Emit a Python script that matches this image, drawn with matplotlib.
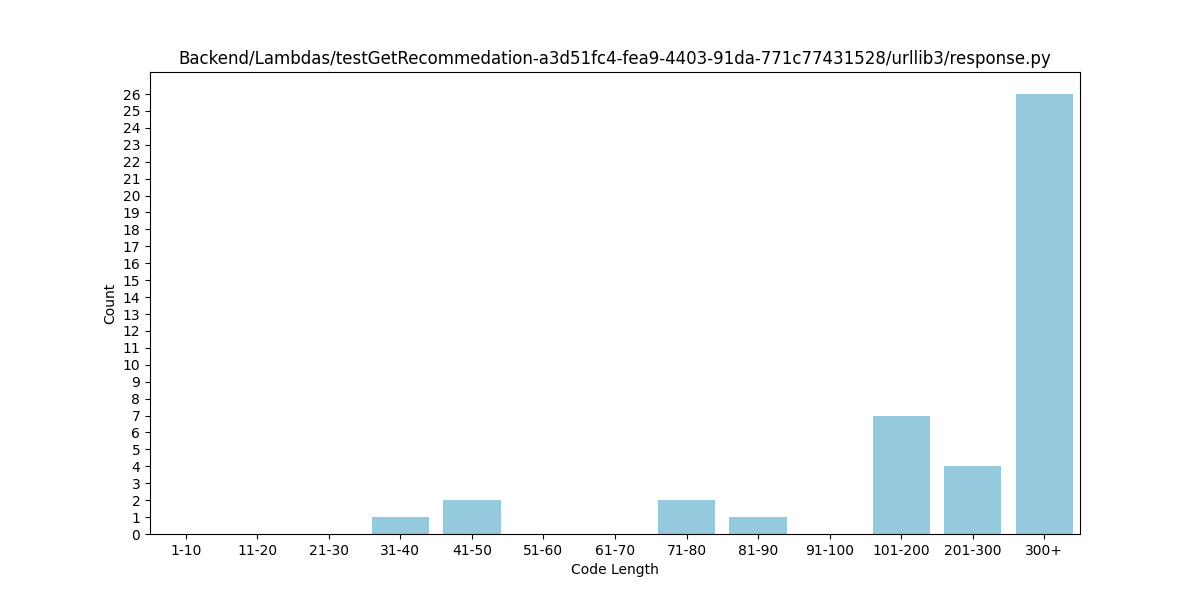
import matplotlib
matplotlib.use("Agg")
import matplotlib.pyplot as plt
import seaborn as sns
import pandas as pd

TITLE = "Backend/Lambdas/testGetRecommedation-a3d51fc4-fea9-4403-91da-771c77431528/urllib3/response.py"

ranges = ["1-10", "11-20", "21-30", "31-40", "41-50", "51-60", "61-70",
          "71-80", "81-90", "91-100", "101-200", "201-300", "300+"]
counts = [0, 0, 0, 1, 2, 0, 0, 2, 1, 0, 7, 4, 26]


def main():
    df = pd.DataFrame({"Code Length": ranges, "Count": counts})

    plt.figure(figsize=(12, 6))
    ax = sns.barplot(data=df, x="Code Length", y="Count", color="skyblue")
    ax.set_yticks(range(0, max(counts) + 1))
    ax.set_title(TITLE)
    ax.set_xlabel("Code Length")
    ax.set_ylabel("Count")
    plt.savefig("out.png", dpi=100)
    plt.close()


if __name__ == "__main__":
    main()
